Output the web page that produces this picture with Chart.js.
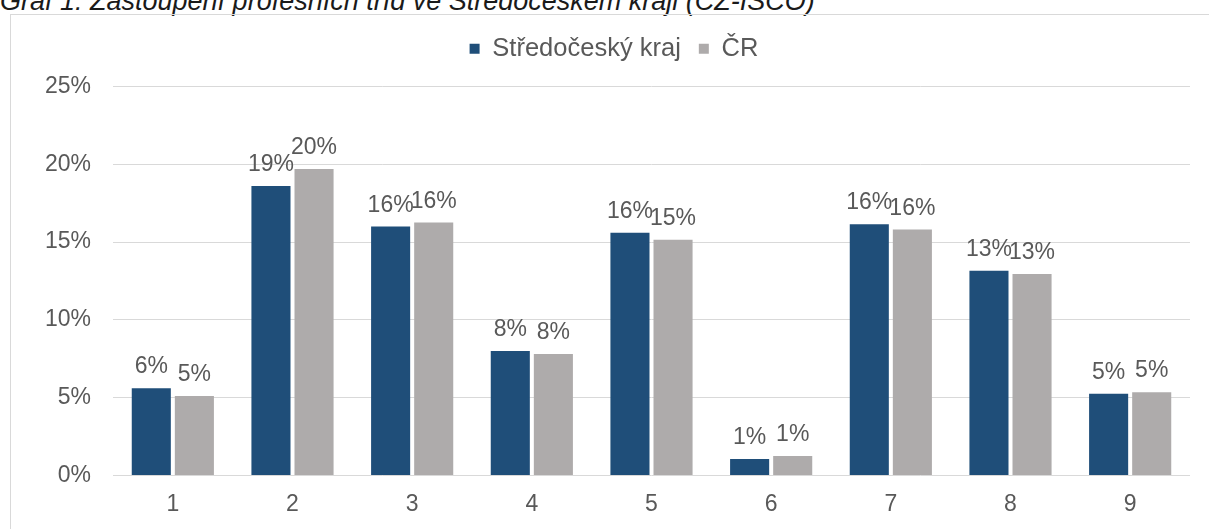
<!DOCTYPE html>
<html>
<head>
<meta charset="utf-8">
<script src="https://cdn.jsdelivr.net/npm/chart.js@4.4.0/dist/chart.umd.min.js"></script>
<style>
  html, body { margin: 0; padding: 0; background: #fff; overflow: hidden; }
  body { width: 1209px; height: 529px; position: relative; font-family: "Liberation Sans", Arial, sans-serif; }
  #title { position: absolute; left: 0; top: -12px; font-size: 27px; line-height: 27px; font-style: italic; color: #1a1a1a; white-space: nowrap; }
  #frame { position: absolute; left: 10px; top: 14px; width: 1300px; height: 600px; border: 1px solid #d9d9d9; }
  #wrap { position: absolute; left: 0; top: 0; width: 1209px; height: 529px; }
</style>
</head>
<body>
<div id="title">Graf 1: Zastoupení profesních tříd ve Středočeském kraji (CZ-ISCO)</div>
<div id="frame"></div>
<div id="wrap"><canvas id="myChart"></canvas></div>
<script>
const categories = ["1", "2", "3", "4", "5", "6", "7", "8", "9"];
const stredocesky = [5.6, 18.6, 16.0, 8.0, 15.6, 1.05, 16.15, 13.15, 5.25];
const cr = [5.1, 19.7, 16.25, 7.8, 15.15, 1.25, 15.8, 12.95, 5.35];
const seriesNames = ["Středočeský kraj", "ČR"];
const yTicks = [0, 5, 10, 15, 20, 25];

const textColor = "#595959";
const gridColor = "#d9d9d9";
const fontFamily = "'Liberation Sans', Arial, sans-serif";

// value labels above bars
const barLabels = {
  id: "barLabels",
  afterDatasetsDraw(chart) {
    const ctx = chart.ctx;
    ctx.save();
    ctx.font = "23px " + fontFamily;
    ctx.fillStyle = textColor;
    ctx.textAlign = "center";
    ctx.textBaseline = "alphabetic";
    chart.data.datasets.forEach((ds, i) => {
      chart.getDatasetMeta(i).data.forEach((bar, j) => {
        ctx.fillText(Math.round(ds.data[j]) + "%", bar.x, bar.y - 15);
      });
    });
    ctx.restore();
  },
};

// extra room under the legend, and centre it over the whole frame
const legendTweak = {
  id: "legendTweak",
  beforeInit(chart) {
    const legend = chart.legend;
    const fit = legend.fit;
    legend.fit = function () {
      fit.call(legend);
      this.height += 15;
    };
    const draw = legend.draw;
    legend.draw = function () {
      chart.ctx.save();
      chart.ctx.translate(19, 0);
      draw.call(legend);
      chart.ctx.restore();
    };
  },
};

new Chart("myChart", {
  type: "bar",
  data: {
    labels: categories,
    datasets: [
      {
        label: seriesNames[0],
        data: stredocesky,
        backgroundColor: "#1f4e79",
        categoryPercentage: 0.72,
        barPercentage: 0.907,
      },
      {
        label: seriesNames[1],
        data: cr,
        backgroundColor: "#aeabab",
        categoryPercentage: 0.72,
        barPercentage: 0.907,
      },
    ],
  },
  options: {
    responsive: true,
    maintainAspectRatio: false,
    animation: false,
    layout: { padding: { top: 18, right: 19, bottom: -4, left: 0 } },
    plugins: {
      tooltip: { enabled: false },
      legend: {
        position: "top",
        labels: {
          boxWidth: 10,
          boxHeight: 10,
          padding: 18,
          color: textColor,
          font: { family: fontFamily, size: 25.5 },
        },
      },
    },
    scales: {
      x: {
        grid: { display: false, drawTicks: false },
        border: { display: false },
        ticks: {
          color: textColor,
          padding: 15,
          font: { family: fontFamily, size: 23 },
        },
      },
      y: {
        min: yTicks[0],
        max: yTicks[yTicks.length - 1],
        afterFit(scale) { scale.width = 113; },
        afterBuildTicks(scale) { scale.ticks = yTicks.map((v) => ({ value: v })); },
        grid: { color: gridColor, lineWidth: 1, drawTicks: false },
        border: { display: false },
        ticks: {
          color: textColor,
          padding: 22,
          font: { family: fontFamily, size: 23 },
          callback: (v) => v + "%",
        },
      },
    },
  },
  plugins: [barLabels, legendTweak],
});
</script>
</body>
</html>
